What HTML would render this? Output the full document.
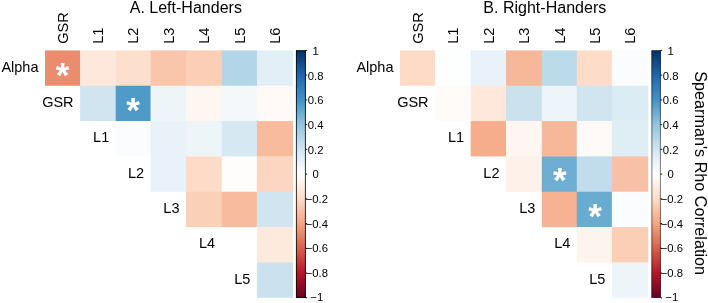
<!DOCTYPE html>
<html><head><meta charset="utf-8"><title>Correlation</title>
<style>html,body{margin:0;padding:0;background:#fff;}svg{display:block;will-change:transform;font-kerning:none;}</style></head>
<body>
<svg width="708" height="303" viewBox="0 0 708 303" font-family="'Liberation Sans', Arial, sans-serif" fill="#000">
<defs><linearGradient id="cb" x1="0" y1="0" x2="0" y2="1"><stop offset="0%" stop-color="#053061"/><stop offset="10%" stop-color="#2166AC"/><stop offset="20%" stop-color="#4393C3"/><stop offset="30%" stop-color="#92C5DE"/><stop offset="40%" stop-color="#D1E5F0"/><stop offset="50%" stop-color="#FFFFFF"/><stop offset="60%" stop-color="#FDDBC7"/><stop offset="70%" stop-color="#F4A582"/><stop offset="80%" stop-color="#D6604D"/><stop offset="90%" stop-color="#B2182B"/><stop offset="100%" stop-color="#67001F"/></linearGradient></defs>
<rect width="708" height="303" fill="#fff"/>
<rect x="45.00" y="50.40" width="35.40" height="35.34" fill="#EA8D6F"/>
<rect x="80.10" y="50.40" width="35.95" height="35.64" fill="#FEE8DB"/>
<rect x="115.75" y="50.40" width="35.15" height="35.64" fill="#FDDFCD"/>
<rect x="150.60" y="50.40" width="35.70" height="35.64" fill="#F9C5AB"/>
<rect x="186.00" y="50.40" width="36.00" height="35.64" fill="#FBCEB6"/>
<rect x="221.70" y="50.40" width="35.50" height="35.64" fill="#B2D5E7"/>
<rect x="256.90" y="50.40" width="36.10" height="35.64" fill="#E3EFF6"/>
<rect x="80.10" y="85.74" width="35.95" height="35.34" fill="#D1E5F0"/>
<rect x="115.75" y="85.74" width="35.15" height="35.64" fill="#4F9AC7"/>
<rect x="150.60" y="85.74" width="35.70" height="35.64" fill="#EDF5F9"/>
<rect x="186.00" y="85.74" width="36.00" height="35.64" fill="#FEF6F1"/>
<rect x="221.70" y="85.74" width="35.50" height="35.64" fill="#F4F8FB"/>
<rect x="256.90" y="85.74" width="36.10" height="35.64" fill="#FFFAF7"/>
<rect x="115.75" y="121.08" width="35.15" height="35.34" fill="#FAFCFE"/>
<rect x="150.60" y="121.08" width="35.70" height="35.64" fill="#E8F2F8"/>
<rect x="186.00" y="121.08" width="36.00" height="35.64" fill="#EDF5F9"/>
<rect x="221.70" y="121.08" width="35.50" height="35.64" fill="#D6E8F2"/>
<rect x="256.90" y="121.08" width="36.10" height="35.64" fill="#F8BB9E"/>
<rect x="150.60" y="156.42" width="35.70" height="35.34" fill="#E8F2F8"/>
<rect x="186.00" y="156.42" width="36.00" height="35.64" fill="#FDDBC7"/>
<rect x="221.70" y="156.42" width="35.50" height="35.64" fill="#FFFDFC"/>
<rect x="256.90" y="156.42" width="36.10" height="35.64" fill="#FCD6C0"/>
<rect x="186.00" y="191.76" width="36.00" height="35.34" fill="#FBD0B9"/>
<rect x="221.70" y="191.76" width="35.50" height="35.64" fill="#F8BB9E"/>
<rect x="256.90" y="191.76" width="36.10" height="35.64" fill="#D1E5F0"/>
<rect x="221.70" y="227.10" width="35.50" height="35.34" fill="#FFFFFF"/>
<rect x="256.90" y="227.10" width="36.10" height="35.64" fill="#FEE9DD"/>
<rect x="256.90" y="262.44" width="36.10" height="35.34" fill="#CBE2EE"/>
<text x="62.55" y="87.07" font-size="35" font-weight="bold" fill="#fff" text-anchor="middle">*</text>
<text x="133.18" y="121.81" font-size="35" font-weight="bold" fill="#fff" text-anchor="middle">*</text>
<text x="38.50" y="71.77" font-size="14.5" text-anchor="end">Alpha</text>
<text x="73.60" y="107.11" font-size="14.5" text-anchor="end">GSR</text>
<text x="109.25" y="142.45" font-size="14.5" text-anchor="end">L1</text>
<text x="144.10" y="177.79" font-size="14.5" text-anchor="end">L2</text>
<text x="179.50" y="213.13" font-size="14.5" text-anchor="end">L3</text>
<text x="215.20" y="248.47" font-size="14.5" text-anchor="end">L4</text>
<text x="250.40" y="283.81" font-size="14.5" text-anchor="end">L5</text>
<text transform="translate(67.75,43.80) rotate(-90)" font-size="14.6">GSR</text>
<text transform="translate(103.12,43.80) rotate(-90)" font-size="14.6">L1</text>
<text transform="translate(138.38,43.80) rotate(-90)" font-size="14.6">L2</text>
<text transform="translate(173.50,43.80) rotate(-90)" font-size="14.6">L3</text>
<text transform="translate(209.05,43.80) rotate(-90)" font-size="14.6">L4</text>
<text transform="translate(244.50,43.80) rotate(-90)" font-size="14.6">L5</text>
<text transform="translate(280.15,43.80) rotate(-90)" font-size="14.6">L6</text>
<text x="129.70" y="13" font-size="16.05">A. Left-Handers</text>
<rect x="296.00" y="50.40" width="9.8" height="247.38" fill="url(#cb)"/>
<rect x="296.40" y="50.70" width="9.0" height="246.78" fill="none" stroke="#000" stroke-opacity="0.8" stroke-width="1"/>
<line x1="305.30" x2="307.20" y1="50.40" y2="50.40" stroke="#000" stroke-width="0.9"/>
<text x="315.60" y="55.10" font-size="11.3" text-anchor="middle">1</text>
<line x1="305.30" x2="307.20" y1="75.14" y2="75.14" stroke="#000" stroke-width="0.9"/>
<text x="315.60" y="79.74" font-size="11.3" text-anchor="middle">0.8</text>
<line x1="305.30" x2="307.20" y1="99.88" y2="99.88" stroke="#000" stroke-width="0.9"/>
<text x="315.60" y="104.38" font-size="11.3" text-anchor="middle">0.6</text>
<line x1="305.30" x2="307.20" y1="124.61" y2="124.61" stroke="#000" stroke-width="0.9"/>
<text x="315.60" y="129.01" font-size="11.3" text-anchor="middle">0.4</text>
<line x1="305.30" x2="307.20" y1="149.35" y2="149.35" stroke="#000" stroke-width="0.9"/>
<text x="315.60" y="153.65" font-size="11.3" text-anchor="middle">0.2</text>
<line x1="305.30" x2="307.20" y1="174.09" y2="174.09" stroke="#000" stroke-width="0.9"/>
<text x="315.60" y="178.29" font-size="11.3" text-anchor="middle">0</text>
<line x1="305.30" x2="307.20" y1="198.83" y2="198.83" stroke="#000" stroke-width="0.9"/>
<text x="316.80" y="202.93" font-size="11.3" text-anchor="middle">−0.2</text>
<line x1="305.30" x2="307.20" y1="223.57" y2="223.57" stroke="#000" stroke-width="0.9"/>
<text x="316.80" y="227.57" font-size="11.3" text-anchor="middle">−0.4</text>
<line x1="305.30" x2="307.20" y1="248.30" y2="248.30" stroke="#000" stroke-width="0.9"/>
<text x="316.80" y="252.20" font-size="11.3" text-anchor="middle">−0.6</text>
<line x1="305.30" x2="307.20" y1="273.04" y2="273.04" stroke="#000" stroke-width="0.9"/>
<text x="316.80" y="276.84" font-size="11.3" text-anchor="middle">−0.8</text>
<line x1="305.30" x2="307.20" y1="297.78" y2="297.78" stroke="#000" stroke-width="0.9"/>
<text x="316.80" y="301.48" font-size="11.3" text-anchor="middle">−1</text>
<rect x="400.00" y="50.40" width="35.40" height="35.34" fill="#FDDBC7"/>
<rect x="435.10" y="50.40" width="35.90" height="35.64" fill="#FDFEFE"/>
<rect x="470.70" y="50.40" width="35.60" height="35.64" fill="#E8F2F8"/>
<rect x="506.00" y="50.40" width="36.10" height="35.64" fill="#F7B89A"/>
<rect x="541.80" y="50.40" width="35.30" height="35.64" fill="#BBDAEA"/>
<rect x="576.80" y="50.40" width="35.40" height="35.64" fill="#FDDDCA"/>
<rect x="611.90" y="50.40" width="36.30" height="35.64" fill="#FAFCFE"/>
<rect x="435.10" y="85.74" width="35.90" height="35.34" fill="#FFFBF9"/>
<rect x="470.70" y="85.74" width="35.60" height="35.64" fill="#FEE8DB"/>
<rect x="506.00" y="85.74" width="36.10" height="35.64" fill="#CBE2EE"/>
<rect x="541.80" y="85.74" width="35.30" height="35.64" fill="#EDF5F9"/>
<rect x="576.80" y="85.74" width="35.40" height="35.64" fill="#D1E5F0"/>
<rect x="611.90" y="85.74" width="36.30" height="35.64" fill="#DCECF4"/>
<rect x="470.70" y="121.08" width="35.60" height="35.34" fill="#F5AD8C"/>
<rect x="506.00" y="121.08" width="36.10" height="35.64" fill="#FEF6F1"/>
<rect x="541.80" y="121.08" width="35.30" height="35.64" fill="#F7B89A"/>
<rect x="576.80" y="121.08" width="35.40" height="35.64" fill="#FFFAF7"/>
<rect x="611.90" y="121.08" width="36.30" height="35.64" fill="#DFEDF4"/>
<rect x="506.00" y="156.42" width="36.10" height="35.34" fill="#FEF1E9"/>
<rect x="541.80" y="156.42" width="35.30" height="35.64" fill="#6EAED2"/>
<rect x="576.80" y="156.42" width="35.40" height="35.64" fill="#C1DDEC"/>
<rect x="611.90" y="156.42" width="36.30" height="35.64" fill="#F8C0A4"/>
<rect x="541.80" y="191.76" width="35.30" height="35.34" fill="#F6B293"/>
<rect x="576.80" y="191.76" width="35.40" height="35.64" fill="#6AACD0"/>
<rect x="611.90" y="191.76" width="36.30" height="35.64" fill="#FAFCFE"/>
<rect x="576.80" y="227.10" width="35.40" height="35.34" fill="#FEF4EE"/>
<rect x="611.90" y="227.10" width="36.30" height="35.64" fill="#FBCEB6"/>
<rect x="611.90" y="262.44" width="36.30" height="35.34" fill="#EDF5F9"/>
<text x="559.90" y="192.49" font-size="35" font-weight="bold" fill="#fff" text-anchor="middle">*</text>
<text x="594.95" y="227.93" font-size="35" font-weight="bold" fill="#fff" text-anchor="middle">*</text>
<text x="393.50" y="71.77" font-size="14.5" text-anchor="end">Alpha</text>
<text x="428.60" y="107.11" font-size="14.5" text-anchor="end">GSR</text>
<text x="464.20" y="142.45" font-size="14.5" text-anchor="end">L1</text>
<text x="499.50" y="177.79" font-size="14.5" text-anchor="end">L2</text>
<text x="535.30" y="213.13" font-size="14.5" text-anchor="end">L3</text>
<text x="570.30" y="248.47" font-size="14.5" text-anchor="end">L4</text>
<text x="605.40" y="283.81" font-size="14.5" text-anchor="end">L5</text>
<text transform="translate(422.75,43.80) rotate(-90)" font-size="14.6">GSR</text>
<text transform="translate(458.10,43.80) rotate(-90)" font-size="14.6">L1</text>
<text transform="translate(493.55,43.80) rotate(-90)" font-size="14.6">L2</text>
<text transform="translate(529.10,43.80) rotate(-90)" font-size="14.6">L3</text>
<text transform="translate(564.50,43.80) rotate(-90)" font-size="14.6">L4</text>
<text transform="translate(599.55,43.80) rotate(-90)" font-size="14.6">L5</text>
<text transform="translate(635.25,43.80) rotate(-90)" font-size="14.6">L6</text>
<text x="483.30" y="13" font-size="16.05">B. Right-Handers</text>
<rect x="651.50" y="50.40" width="9.3" height="247.38" fill="url(#cb)"/>
<rect x="651.90" y="50.70" width="8.5" height="246.78" fill="none" stroke="#000" stroke-opacity="0.5" stroke-width="1"/>
<line x1="660.30" x2="662.20" y1="50.40" y2="50.40" stroke="#000" stroke-width="0.9"/>
<text x="670.60" y="55.10" font-size="11.3" text-anchor="middle">1</text>
<line x1="660.30" x2="662.20" y1="75.14" y2="75.14" stroke="#000" stroke-width="0.9"/>
<text x="670.60" y="79.74" font-size="11.3" text-anchor="middle">0.8</text>
<line x1="660.30" x2="662.20" y1="99.88" y2="99.88" stroke="#000" stroke-width="0.9"/>
<text x="670.60" y="104.38" font-size="11.3" text-anchor="middle">0.6</text>
<line x1="660.30" x2="662.20" y1="124.61" y2="124.61" stroke="#000" stroke-width="0.9"/>
<text x="670.60" y="129.01" font-size="11.3" text-anchor="middle">0.4</text>
<line x1="660.30" x2="662.20" y1="149.35" y2="149.35" stroke="#000" stroke-width="0.9"/>
<text x="670.60" y="153.65" font-size="11.3" text-anchor="middle">0.2</text>
<line x1="660.30" x2="662.20" y1="174.09" y2="174.09" stroke="#000" stroke-width="0.9"/>
<text x="670.60" y="178.29" font-size="11.3" text-anchor="middle">0</text>
<line x1="660.30" x2="662.20" y1="198.83" y2="198.83" stroke="#000" stroke-width="0.9"/>
<text x="671.80" y="202.93" font-size="11.3" text-anchor="middle">−0.2</text>
<line x1="660.30" x2="662.20" y1="223.57" y2="223.57" stroke="#000" stroke-width="0.9"/>
<text x="671.80" y="227.57" font-size="11.3" text-anchor="middle">−0.4</text>
<line x1="660.30" x2="662.20" y1="248.30" y2="248.30" stroke="#000" stroke-width="0.9"/>
<text x="671.80" y="252.20" font-size="11.3" text-anchor="middle">−0.6</text>
<line x1="660.30" x2="662.20" y1="273.04" y2="273.04" stroke="#000" stroke-width="0.9"/>
<text x="671.80" y="276.84" font-size="11.3" text-anchor="middle">−0.8</text>
<line x1="660.30" x2="662.20" y1="297.78" y2="297.78" stroke="#000" stroke-width="0.9"/>
<text x="671.80" y="301.48" font-size="11.3" text-anchor="middle">−1</text>
<text transform="translate(695.1,71.3) rotate(90)" font-size="16.2" style="font-kerning:none">Spearman's Rho Correlation</text>
</svg>
</body></html>
